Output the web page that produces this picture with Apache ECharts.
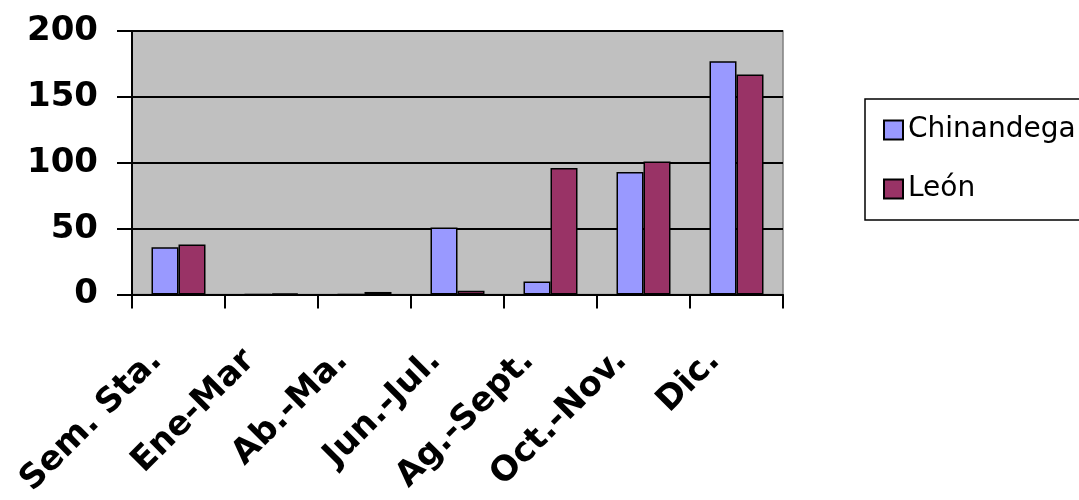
<!DOCTYPE html>
<html>
<head>
<meta charset="utf-8">
<script src="https://cdn.jsdelivr.net/npm/echarts@6/dist/echarts.min.js"></script>
<style>
html,body{margin:0;padding:0;background:#fff;}
#chart{width:1079px;height:500px;}
</style>
</head>
<body>
<div id="chart"></div>
<script>
const categories = ['Sem. Sta.', 'Ene-Mar', 'Ab.-Ma.', 'Jun.-Jul.', 'Ag.-Sept.', 'Oct.-Nov.', 'Dic.'];
const chinandega = [36, 0, 0, 51, 10, 93, 177];
const leon = [38, 1, 2, 3, 96, 101, 167];
const yTicks = [0, 50, 100, 150, 200];

const FONT = "'DejaVu Sans', sans-serif";
const chart = echarts.init(document.getElementById('chart'), null, {renderer: 'canvas'});
chart.setOption({
  animation: false,
  backgroundColor: '#ffffff',
  grid: {
    left: 132, top: 31, right: 296, bottom: 203,
    show: true, backgroundColor: '#C0C0C0', borderColor: '#808080', borderWidth: 1.5
  },
  legend: {
    orient: 'vertical',
    left: 865, top: 99,
    padding: [16, 40, 16, 18],
    itemGap: 29,
    itemWidth: 19, itemHeight: 19,
    borderColor: '#000', borderWidth: 1.5,
    backgroundColor: '#fff',
    icon: 'rect',
    textStyle: {fontFamily: FONT, fontSize: 28, color: '#000', lineHeight: 30},
    data: ['Chinandega', 'León']
  },
  xAxis: {
    type: 'category',
    data: categories,
    axisLine: {lineStyle: {color: '#000', width: 2}},
    axisTick: {show: true, length: 14, lineStyle: {color: '#000', width: 2}},
    axisLabel: {
      rotate: 45, interval: 0, margin: 39, padding: [0, 31, 0, 0],
      fontFamily: FONT, fontSize: 34, fontWeight: 'bold', color: '#000'
    }
  },
  yAxis: {
    type: 'value',
    min: yTicks[0], max: yTicks[yTicks.length - 1], interval: 50,
    axisLine: {show: true, lineStyle: {color: '#000', width: 2}},
    axisTick: {show: true, length: 15, lineStyle: {color: '#000', width: 2}},
    splitLine: {show: true, lineStyle: {color: '#000', width: 2}},
    axisLabel: {
      margin: 34, fontFamily: FONT, fontSize: 34, fontWeight: 'bold', color: '#000'
    }
  },
  series: [
    {
      name: 'Chinandega', type: 'bar', data: chinandega,
      barWidth: 27, barGap: '0%',
      itemStyle: {color: '#9999FF', borderColor: '#000', borderWidth: 1.5}
    },
    {
      name: 'León', type: 'bar', data: leon,
      barWidth: 27, barGap: '0%',
      itemStyle: {color: '#993366', borderColor: '#000', borderWidth: 1.5}
    }
  ]
});
</script>
</body>
</html>
